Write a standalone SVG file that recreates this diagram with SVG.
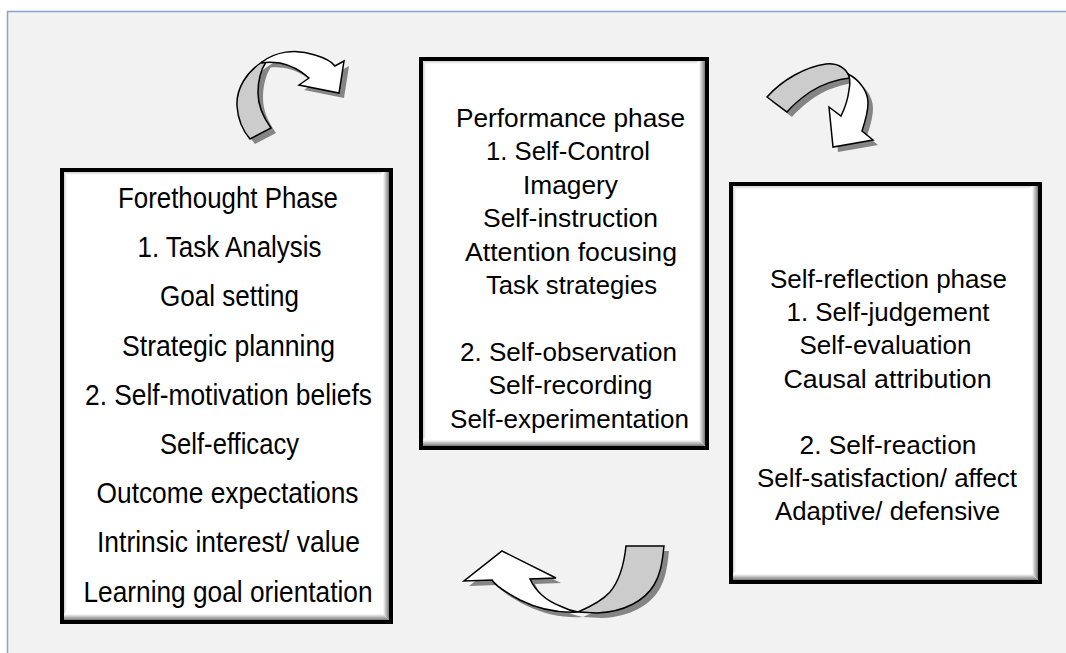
<svg xmlns="http://www.w3.org/2000/svg" width="1066" height="653" viewBox="0 0 1066 653">
<style>
  .t { font-family: "Liberation Sans", Arial, sans-serif; fill: #000; text-anchor: middle; }
  .l { font-size: 29.5px; }
  .m { font-size: 26px; }
  .r { font-size: 26px; }
  .box { fill: #fff; stroke: #000; stroke-width: 4; }
  .ar { stroke: #000; stroke-width: 1.5; stroke-linejoin: miter; }
  .back { fill: #cccccc; }
  .front { fill: #ffffff; }
  .sh { fill: #858585; }
</style>
<defs>
  <linearGradient id="gB" x1="0" y1="0" x2="0" y2="1">
    <stop offset="0" stop-color="#ffffff"/>
    <stop offset="1" stop-color="#7a7a7a"/>
  </linearGradient>
  <linearGradient id="gR" x1="0" y1="0" x2="1" y2="0">
    <stop offset="0" stop-color="#ffffff"/>
    <stop offset="1" stop-color="#7a7a7a"/>
  </linearGradient>
  <linearGradient id="gT" x1="0" y1="0" x2="0" y2="1">
    <stop offset="0" stop-color="#d0d0d0"/>
    <stop offset="1" stop-color="#ffffff"/>
  </linearGradient>
  <linearGradient id="gL" x1="0" y1="0" x2="1" y2="0">
    <stop offset="0" stop-color="#d0d0d0"/>
    <stop offset="1" stop-color="#ffffff"/>
  </linearGradient>
</defs>

<!-- background frame -->
<rect x="0" y="0" width="1066" height="653" fill="#ffffff"/>
<rect x="7" y="11" width="1059" height="642" fill="#f2f2f2"/>
<path d="M7.5,653 V11.5 H1066" fill="none" stroke="#8aa3cc" stroke-width="1.5"/>

<!-- Forethought box -->
<g id="forethought">
  <rect class="box" x="62" y="170" width="329" height="452"/>
  <polygon points="64,614 383,614 389,620 64,620" fill="url(#gB)"/>
  <polygon points="383,172 389,172 389,620 383,614" fill="url(#gR)"/>
  <polygon points="64,172 383,172 380,175 67,175" fill="url(#gT)"/>
  <polygon points="64,172 67,175 67,611 64,614" fill="url(#gL)"/>
  <text class="t l" x="228" y="208" textLength="220" lengthAdjust="spacingAndGlyphs">Forethought Phase</text>
  <text class="t l" x="229.5" y="257.2" textLength="184" lengthAdjust="spacingAndGlyphs">1. Task Analysis</text>
  <text class="t l" x="229.5" y="306.4" textLength="139" lengthAdjust="spacingAndGlyphs">Goal setting</text>
  <text class="t l" x="228.5" y="355.6" textLength="213" lengthAdjust="spacingAndGlyphs">Strategic planning</text>
  <text class="t l" x="228.5" y="404.8" textLength="287" lengthAdjust="spacingAndGlyphs">2. Self-motivation beliefs</text>
  <text class="t l" x="229.5" y="454" textLength="139" lengthAdjust="spacingAndGlyphs">Self-efficacy</text>
  <text class="t l" x="227.5" y="503.2" textLength="262" lengthAdjust="spacingAndGlyphs">Outcome expectations</text>
  <text class="t l" x="228.5" y="552.4" textLength="263" lengthAdjust="spacingAndGlyphs">Intrinsic interest/ value</text>
  <text class="t l" x="228" y="601.6" textLength="289" lengthAdjust="spacingAndGlyphs">Learning goal orientation</text>
</g>

<!-- Performance box -->
<g id="performance">
  <rect class="box" x="421" y="59" width="286" height="389"/>
  <polygon points="423,440 699,440 705,446 423,446" fill="url(#gB)"/>
  <polygon points="699,61 705,61 705,446 699,440" fill="url(#gR)"/>
  <polygon points="423,61 699,61 696,64 426,64" fill="url(#gT)"/>
  <polygon points="423,61 426,64 426,437 423,440" fill="url(#gL)"/>
  <text class="t m" x="570.5" y="127" textLength="229" lengthAdjust="spacingAndGlyphs">Performance phase</text>
  <text class="t m" x="568" y="160.4" textLength="164" lengthAdjust="spacingAndGlyphs">1. Self-Control</text>
  <text class="t m" x="570.5" y="193.8" textLength="95" lengthAdjust="spacingAndGlyphs">Imagery</text>
  <text class="t m" x="570.5" y="227.2" textLength="175" lengthAdjust="spacingAndGlyphs">Self-instruction</text>
  <text class="t m" x="571" y="260.6" textLength="212" lengthAdjust="spacingAndGlyphs">Attention focusing</text>
  <text class="t m" x="571.5" y="294" textLength="171" lengthAdjust="spacingAndGlyphs">Task strategies</text>
  <text class="t m" x="568.5" y="360.8" textLength="217" lengthAdjust="spacingAndGlyphs">2. Self-observation</text>
  <text class="t m" x="570.5" y="394.2" textLength="164" lengthAdjust="spacingAndGlyphs">Self-recording</text>
  <text class="t m" x="569.5" y="427.6" textLength="239" lengthAdjust="spacingAndGlyphs">Self-experimentation</text>
</g>

<!-- Self-reflection box -->
<g id="selfreflection">
  <rect class="box" x="731" y="184" width="309" height="398"/>
  <polygon points="733,574 1032,574 1038,580 733,580" fill="url(#gB)"/>
  <polygon points="1032,186 1038,186 1038,580 1032,574" fill="url(#gR)"/>
  <polygon points="733,186 1032,186 1029,189 736,189" fill="url(#gT)"/>
  <polygon points="733,186 736,189 736,571 733,574" fill="url(#gL)"/>
  <text class="t r" x="888.5" y="288" textLength="237" lengthAdjust="spacingAndGlyphs">Self-reflection phase</text>
  <text class="t r" x="888" y="321.2" textLength="203" lengthAdjust="spacingAndGlyphs">1. Self-judgement</text>
  <text class="t r" x="885.5" y="354.4" textLength="172" lengthAdjust="spacingAndGlyphs">Self-evaluation</text>
  <text class="t r" x="887.5" y="387.6" textLength="208" lengthAdjust="spacingAndGlyphs">Causal attribution</text>
  <text class="t r" x="888" y="454" textLength="177" lengthAdjust="spacingAndGlyphs">2. Self-reaction</text>
  <text class="t r" x="887" y="487.2" textLength="260" lengthAdjust="spacingAndGlyphs">Self-satisfaction/ affect</text>
  <text class="t r" x="887.5" y="520.4" textLength="225" lengthAdjust="spacingAndGlyphs">Adaptive/ defensive</text>
</g>

<!-- connectors: curved block arrows -->
<g id="connectors">
  <g id="arrow-forethought-performance">
    <g transform="translate(5,5)">
      <path class="sh" d="M262,62 C247,72 236,88 237,106 C238,120 243,131 250,139 L271,128 C263,117 258,105 258,93 C258,78 262,68 266,62 Z"/>
      <path class="sh" d="M262,62 C275,52 295,48 315,55 C325,58 332,62 335,66 L344,61 L339,93 L299,85 L309,78 C300,70 290,65 280,63 C272,62 266,62 262,63 Z"/>
    </g>
    <path class="ar back" d="M262,62 C247,72 236,88 237,106 C238,120 243,131 250,139 L271,128 C263,117 258,105 258,93 C258,78 262,68 266,62 Z"/>
    <path class="ar front" d="M262,62 C275,52 295,48 315,55 C325,58 332,62 335,66 L344,61 L339,93 L299,85 L309,78 C300,70 290,65 280,63 C272,62 266,62 262,63 Z"/>
  </g>
  <g id="arrow-performance-reflection">
    <g transform="translate(5,5)">
      <path class="sh" d="M767,97 C782,80 805,67 826,64 C838,63 846,68 850,78 C838,79 822,84 810,92 C800,99 792,106 787,112 Z"/>
      <path class="sh" d="M848,74 C860,80 868,92 868,103 C868,112 865,122 862,131 L873,140 L833,147 L829,107 L841,116 C845,108 848,98 849,90 C850,85 850,80 849,76 Z"/>
    </g>
    <path class="ar back" d="M767,97 C782,80 805,67 826,64 C838,63 846,68 850,78 C838,79 822,84 810,92 C800,99 792,106 787,112 Z"/>
    <path class="ar front" d="M848,74 C860,80 868,92 868,103 C868,112 865,122 862,131 L873,140 L833,147 L829,107 L841,116 C845,108 848,98 849,90 C850,85 850,80 849,76 Z"/>
  </g>
  <g id="arrow-reflection-forethought">
    <g transform="translate(5,5)">
      <path class="sh" d="M626,546 L664,546 C662,565 660,575 654,585 C645,600 625,612 597,613 L578,612 C592,606 603,600 610,592 C620,580 624,565 626,546 Z"/>
      <path class="sh" d="M578,612 C560,613 540,610 520,600 C505,592 495,585 492,580 L464,581 L502,551 L556,578 L530,579 C535,590 545,600 560,606 C566,609 572,611 578,612 Z"/>
    </g>
    <path class="ar back" d="M626,546 L664,546 C662,565 660,575 654,585 C645,600 625,612 597,613 L578,612 C592,606 603,600 610,592 C620,580 624,565 626,546 Z"/>
    <path class="ar front" d="M578,612 C560,613 540,610 520,600 C505,592 495,585 492,580 L464,581 L502,551 L556,578 L530,579 C535,590 545,600 560,606 C566,609 572,611 578,612 Z"/>
  </g>
</g>
</svg>
